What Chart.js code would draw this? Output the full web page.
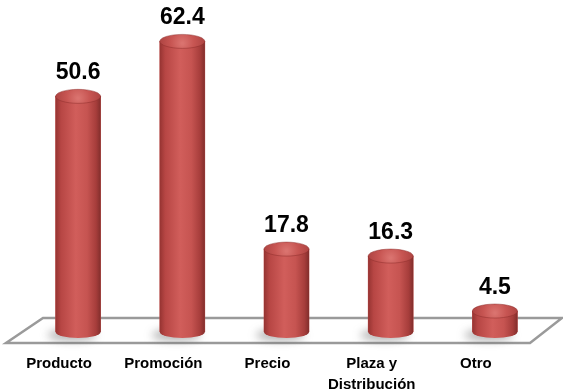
<!DOCTYPE html>
<html lang="es">
<head>
  <meta charset="UTF-8">
  <title>Mezcla de mercadotecnia</title>
  <script src="https://cdn.jsdelivr.net/npm/chart.js"></script>
  <style>
    body {
      margin: 0;
      padding: 0;
      background-color: #ffffff;
    }
    #chart-container {
      width: 563px;
      height: 389px;
    }
  </style>
</head>
<body>
  <div id="chart-container">
    <canvas id="mixChart"></canvas>
  </div>
  <script>
    // Data
    const categories = [['Producto'], ['Promoción'], ['Precio'], ['Plaza y', 'Distribución'], ['Otro']];
    const values = [50.6, 62.4, 17.8, 16.3, 4.5];
    const valueLabels = ['50.6', '62.4', '17.8', '16.3', '4.5'];

    const FONT = "'Liberation Sans', Arial, sans-serif";

    // grey 3D floor under the bars
    const floorPlugin = {
      id: 'floor',
      beforeDatasetsDraw(chart) {
        const { ctx, chartArea } = chart;
        const b = chartArea.bottom;
        ctx.save();
        ctx.beginPath();
        ctx.moveTo(chartArea.left + 17, b - 14);
        ctx.lineTo(chartArea.right + 15, b - 14);
        ctx.lineTo(chartArea.right - 17, b + 11);
        ctx.lineTo(chartArea.left - 20, b + 11);
        ctx.closePath();
        ctx.fillStyle = '#ffffff';
        ctx.fill();
        ctx.lineWidth = 2.5;
        ctx.strokeStyle = '#9a9a9a';
        ctx.stroke();

        // soft shadows on the floor
        const meta = chart.getDatasetMeta(0);
        meta.data.forEach((bar) => {
          ctx.save();
          ctx.filter = 'blur(4px)';
          ctx.fillStyle = 'rgba(90,90,90,0.45)';
          ctx.beginPath();
          ctx.ellipse(bar.x - 6, bar.base + 3, bar.width / 2 + 2, 6, 0, 0, Math.PI * 2);
          ctx.fill();
          ctx.restore();
        });
        ctx.restore();
      }
    };

    // shading the bars as cylinders + value labels
    const cylinderPlugin = {
      id: 'cylinder',
      afterDatasetsDraw(chart) {
        const { ctx } = chart;
        const meta = chart.getDatasetMeta(0);
        meta.data.forEach((bar, i) => {
          const r = bar.width / 2;
          const ry = 7;
          const x0 = bar.x - r, x1 = bar.x + r;

          const g = ctx.createLinearGradient(x0, 0, x1, 0);
          g.addColorStop(0, '#963432');
          g.addColorStop(0.12, '#b74644');
          g.addColorStop(0.45, '#d15e5b');
          g.addColorStop(0.7, '#c65451');
          g.addColorStop(0.9, '#a63d3b');
          g.addColorStop(1, '#822e2c');

          ctx.save();
          ctx.beginPath();
          ctx.moveTo(x0, bar.y);
          ctx.lineTo(x0, bar.base);
          ctx.ellipse(bar.x, bar.base, r, ry - 1, 0, Math.PI, 0, true);
          ctx.lineTo(x1, bar.y);
          ctx.closePath();
          ctx.fillStyle = g;
          ctx.fill();

          // top cap
          const tg = ctx.createRadialGradient(bar.x, bar.y + 2, 1, bar.x, bar.y, r);
          tg.addColorStop(0, '#da736f');
          tg.addColorStop(0.5, '#c75552');
          tg.addColorStop(1, '#ae4442');
          ctx.beginPath();
          ctx.ellipse(bar.x, bar.y, r, ry, 0, 0, Math.PI * 2);
          ctx.fillStyle = tg;
          ctx.fill();
          ctx.lineWidth = 0.8;
          ctx.strokeStyle = 'rgba(140,45,43,0.6)';
          ctx.stroke();

          // value label
          ctx.fillStyle = '#000000';
          ctx.font = 'bold 23px ' + FONT;
          ctx.textAlign = 'center';
          ctx.textBaseline = 'alphabetic';
          ctx.fillText(valueLabels[i], bar.x, bar.y - ry - 10);
          ctx.restore();
        });
      }
    };

    const ctx = document.getElementById('mixChart').getContext('2d');
    const mixChart = new Chart(ctx, {
      type: 'bar',
      data: {
        labels: categories,
        datasets: [
          {
            data: values,
            backgroundColor: '#c0504d',
            borderWidth: 0,
            barThickness: 45,
          },
        ],
      },
      options: {
        responsive: true,
        maintainAspectRatio: false,
        animation: false,
        layout: {
          padding: { left: 26, right: 16, top: 6, bottom: 0 },
        },
        plugins: {
          legend: { display: false },
          tooltip: { enabled: false },
        },
        scales: {
          x: {
            grid: { display: false },
            border: { display: false },
            afterFit: (scale) => { scale.height = 57; },
            ticks: {
              color: '#000000',
              padding: 13,
              labelOffset: -19,
              maxRotation: 0,
              autoSkip: false,
              font: { family: FONT, size: 15, weight: 'bold', lineHeight: 1.4 },
            },
          },
          y: {
            display: false,
            min: 0,
            max: 70,
          },
        },
      },
      plugins: [floorPlugin, cylinderPlugin],
    });
  </script>
</body>
</html>
